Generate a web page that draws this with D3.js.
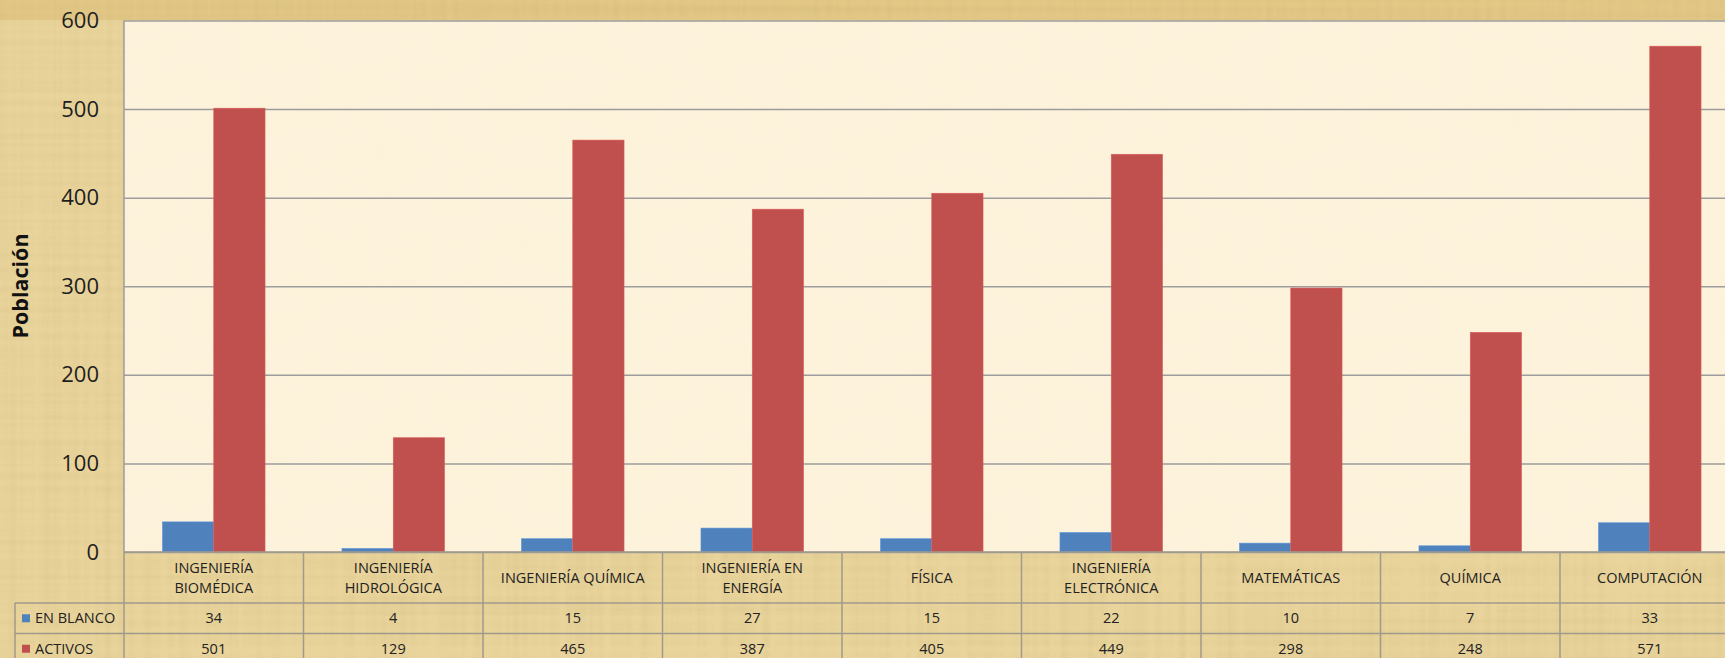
<!DOCTYPE html>
<html>
<head>
<meta charset="utf-8">
<script src="https://cdn.jsdelivr.net/npm/d3@7"></script>
<style>
  html, body { margin: 0; padding: 0; overflow: hidden; background: #e9d59e; }
  svg { display: block; }
  .tick text { font-family: "Open Sans", sans-serif; }
</style>
</head>
<body>
<div id="chart"></div>
<script>

// data
var categories = ["INGENIERÍA BIOMÉDICA", "INGENIERÍA HIDROLÓGICA", "INGENIERÍA QUÍMICA", "INGENIERÍA EN ENERGÍA", "FÍSICA", "INGENIERÍA ELECTRÓNICA", "MATEMÁTICAS", "QUÍMICA", "COMPUTACIÓN"];
var headerLines = [["INGENIERÍA", "BIOMÉDICA"], ["INGENIERÍA", "HIDROLÓGICA"], ["INGENIERÍA QUÍMICA"], ["INGENIERÍA EN", "ENERGÍA"], ["FÍSICA"], ["INGENIERÍA", "ELECTRÓNICA"], ["MATEMÁTICAS"], ["QUÍMICA"], ["COMPUTACIÓN"]];
var seriesNames = ["EN BLANCO", "ACTIVOS"];
var enBlanco = [34, 4, 15, 27, 15, 22, 10, 7, 33];
var activos = [501, 129, 465, 387, 405, 449, 298, 248, 571];
var yTicks = [0, 100, 200, 300, 400, 500, 600];
var yTitle = "Población";

var colors = { "EN BLANCO": "#4f81bd", "ACTIVOS": "#c0504d" };

var width = 1725;
var height = 658;

var plotLeft = 124;
var plotTop = 20.5;
var zeroY = 552;
var catWidth = 179.5;
var plotRight = plotLeft + catWidth * categories.length; // runs past the page edge, like the reference
var rowH = [51, 30.5, 30.5];
var tableLeft = 15;

var svg = d3.select('#chart')
  .append('svg')
  .attr('width', width)
  .attr('height', height);

// papyrus-like texture
var defs = svg.append('defs');

var fibres = defs.append('filter')
  .attr('id', 'papyrus')
  .attr('x', 0).attr('y', 0).attr('width', 1).attr('height', 1);
fibres.append('feTurbulence')
  .attr('type', 'fractalNoise')
  .attr('baseFrequency', '0.001 0.15')
  .attr('numOctaves', 2)
  .attr('seed', 3)
  .attr('result', 'h');
fibres.append('feTurbulence')
  .attr('type', 'fractalNoise')
  .attr('baseFrequency', '0.15 0.001')
  .attr('numOctaves', 2)
  .attr('seed', 7)
  .attr('result', 'v');
fibres.append('feComposite')
  .attr('in', 'h').attr('in2', 'v')
  .attr('operator', 'arithmetic')
  .attr('k1', 0).attr('k2', 0.5).attr('k3', 0.5).attr('k4', 0)
  .attr('result', 'n');
fibres.append('feColorMatrix')
  .attr('in', 'n')
  .attr('type', 'matrix')
  .attr('values', '0 0 0 0 0.55  0 0 0 0 0.42  0 0 0 0 0.18  1.4 0 0 0 -0.55');

var soft = defs.append('filter')
  .attr('id', 'softTex')
  .attr('x', 0).attr('y', 0).attr('width', 1).attr('height', 1);
soft.append('feTurbulence')
  .attr('type', 'fractalNoise')
  .attr('baseFrequency', '0.03 0.03')
  .attr('numOctaves', 2)
  .attr('seed', 11);
soft.append('feColorMatrix')
  .attr('type', 'matrix')
  .attr('values', '0 0 0 0 0.93  0 0 0 0 0.82  0 0 0 0 0.55  1.2 0 0 0 -0.45');

// background
svg.append('rect')
  .attr('width', width).attr('height', height)
  .attr('fill', '#e9d49c');
svg.append('rect')
  .attr('width', width).attr('height', 20)
  .attr('fill', '#e2c785');
svg.append('rect')
  .attr('width', width).attr('height', height)
  .attr('filter', 'url(#papyrus)')
  .attr('opacity', 0.4);

// scales
var x = d3.scaleBand()
  .domain(categories)
  .range([plotLeft, plotRight]);

var xSeries = d3.scaleBand()
  .domain(seriesNames)
  .range([0, x.bandwidth()])
  .paddingOuter(0.75);

var y = d3.scaleLinear()
  .domain([0, 600])
  .range([zeroY, plotTop]);

// plot area
svg.append('rect')
  .attr('x', plotLeft).attr('y', plotTop)
  .attr('width', plotRight - plotLeft).attr('height', zeroY - plotTop)
  .attr('fill', '#fdf3dc');
svg.append('rect')
  .attr('x', plotLeft).attr('y', plotTop)
  .attr('width', plotRight - plotLeft).attr('height', zeroY - plotTop)
  .attr('filter', 'url(#softTex)')
  .attr('opacity', 0.2);

// gridlines + y labels
var yAxis = svg.append('g')
  .attr('transform', 'translate(' + plotLeft + ',0)')
  .call(d3.axisLeft(y)
    .tickValues(yTicks)
    .tickSize(-(plotRight - plotLeft))
    .tickPadding(25));

yAxis.select('.domain').remove();
yAxis.selectAll('.tick line')
  .attr('stroke', '#9d9d9d')
  .attr('stroke-width', 1.5);
yAxis.selectAll('.tick text')
  .attr('font-size', 22)
  .attr('fill', '#1e1e1e');

svg.append('line')
  .attr('x1', plotLeft).attr('x2', plotLeft)
  .attr('y1', plotTop).attr('y2', zeroY)
  .attr('stroke', '#9d9d9d')
  .attr('stroke-width', 1.5);

// bars
var rows = categories.map(function (c, i) {
  return { cat: c, values: [
    { name: seriesNames[0], value: enBlanco[i] },
    { name: seriesNames[1], value: activos[i] }
  ] };
});

var groups = svg.selectAll('.group')
  .data(rows)
  .enter().append('g')
  .attr('class', 'group')
  .attr('transform', function (d) { return 'translate(' + x(d.cat) + ',0)'; });

groups.selectAll('rect')
  .data(function (d) { return d.values; })
  .enter().append('rect')
  .attr('x', function (d) { return xSeries(d.name); })
  .attr('width', xSeries.bandwidth())
  .attr('y', function (d) { return y(d.value); })
  .attr('height', function (d) { return y(0) - y(d.value); })
  .attr('fill', function (d) { return colors[d.name]; })
  .attr('stroke', function (d) { return d3.rgb(colors[d.name]).brighter(0.4); })
  .attr('stroke-width', 0.6);

// data table under the plot
var tableTop = zeroY;
var row1 = tableTop + rowH[0];
var row2 = row1 + rowH[1];
var row3 = row2 + rowH[2];
var gridColor = '#a09a8c';

var table = svg.append('g').attr('class', 'table');

// horizontal rules
table.append('line')
  .attr('x1', plotLeft).attr('x2', plotRight)
  .attr('y1', tableTop).attr('y2', tableTop);
[row1, row2].forEach(function (yy) {
  table.append('line')
    .attr('x1', tableLeft).attr('x2', plotRight)
    .attr('y1', yy).attr('y2', yy);
});

// vertical rules
table.append('line')
  .attr('x1', tableLeft).attr('x2', tableLeft)
  .attr('y1', row1).attr('y2', row3);
categories.concat([null]).forEach(function (c) {
  var xx = c === null ? plotRight : x(c);
  table.append('line')
    .attr('x1', xx).attr('x2', xx)
    .attr('y1', tableTop).attr('y2', row3);
});

table.selectAll('line')
  .attr('stroke', gridColor)
  .attr('stroke-width', 1.5);

// header labels
var header = table.selectAll('.hdr')
  .data(categories)
  .enter().append('text')
  .attr('class', 'hdr')
  .attr('text-anchor', 'middle')
  .attr('font-family', '"Open Sans", sans-serif')
  .attr('font-size', 14.5)
  .attr('fill', '#222');

header.each(function (d, i) {
  var lines = headerLines[i];
  var mid = tableTop + rowH[0] / 2;
  var start = mid - (lines.length - 1) * 10;
  d3.select(this).selectAll('tspan')
    .data(lines)
    .enter().append('tspan')
    .attr('x', x(d) + x.bandwidth() / 2)
    .attr('y', function (l, j) { return start + j * 20; })
    .attr('dy', '0.35em')
    .text(function (l) { return l; });
});

// value rows
var valueRows = [
  { key: 'blanco', name: seriesNames[0], values: enBlanco, top: row1 },
  { key: 'activos', name: seriesNames[1], values: activos, top: row2 }
];

valueRows.forEach(function (r) {
  var mid = r.top + rowH[1] / 2;

  table.append('rect')
    .attr('x', 22).attr('y', mid - 4)
    .attr('width', 8).attr('height', 8)
    .attr('fill', colors[r.name]);

  table.append('text')
    .attr('x', 35).attr('y', mid)
    .attr('dy', '0.35em')
    .attr('font-family', '"Open Sans", sans-serif')
    .attr('font-size', 14.5)
    .attr('fill', '#222')
    .text(r.name);

  table.selectAll('.val-' + r.key)
    .data(r.values)
    .enter().append('text')
    .attr('class', 'val-' + r.key)
    .attr('x', function (d, i) { return x(categories[i]) + x.bandwidth() / 2; })
    .attr('y', mid)
    .attr('dy', '0.35em')
    .attr('text-anchor', 'middle')
    .attr('font-family', '"Open Sans", sans-serif')
    .attr('font-size', 14.5)
    .attr('fill', '#222')
    .text(function (d) { return d; });
});

// y title
svg.append('text')
  .attr('transform', 'translate(20,286) rotate(-90)')
  .attr('text-anchor', 'middle')
  .attr('dy', '0.35em')
  .attr('font-family', '"Open Sans", sans-serif')
  .attr('font-weight', 'bold')
  .attr('font-size', 21.5)
  .attr('fill', '#111')
  .text(yTitle);

</script>
</body>
</html>
